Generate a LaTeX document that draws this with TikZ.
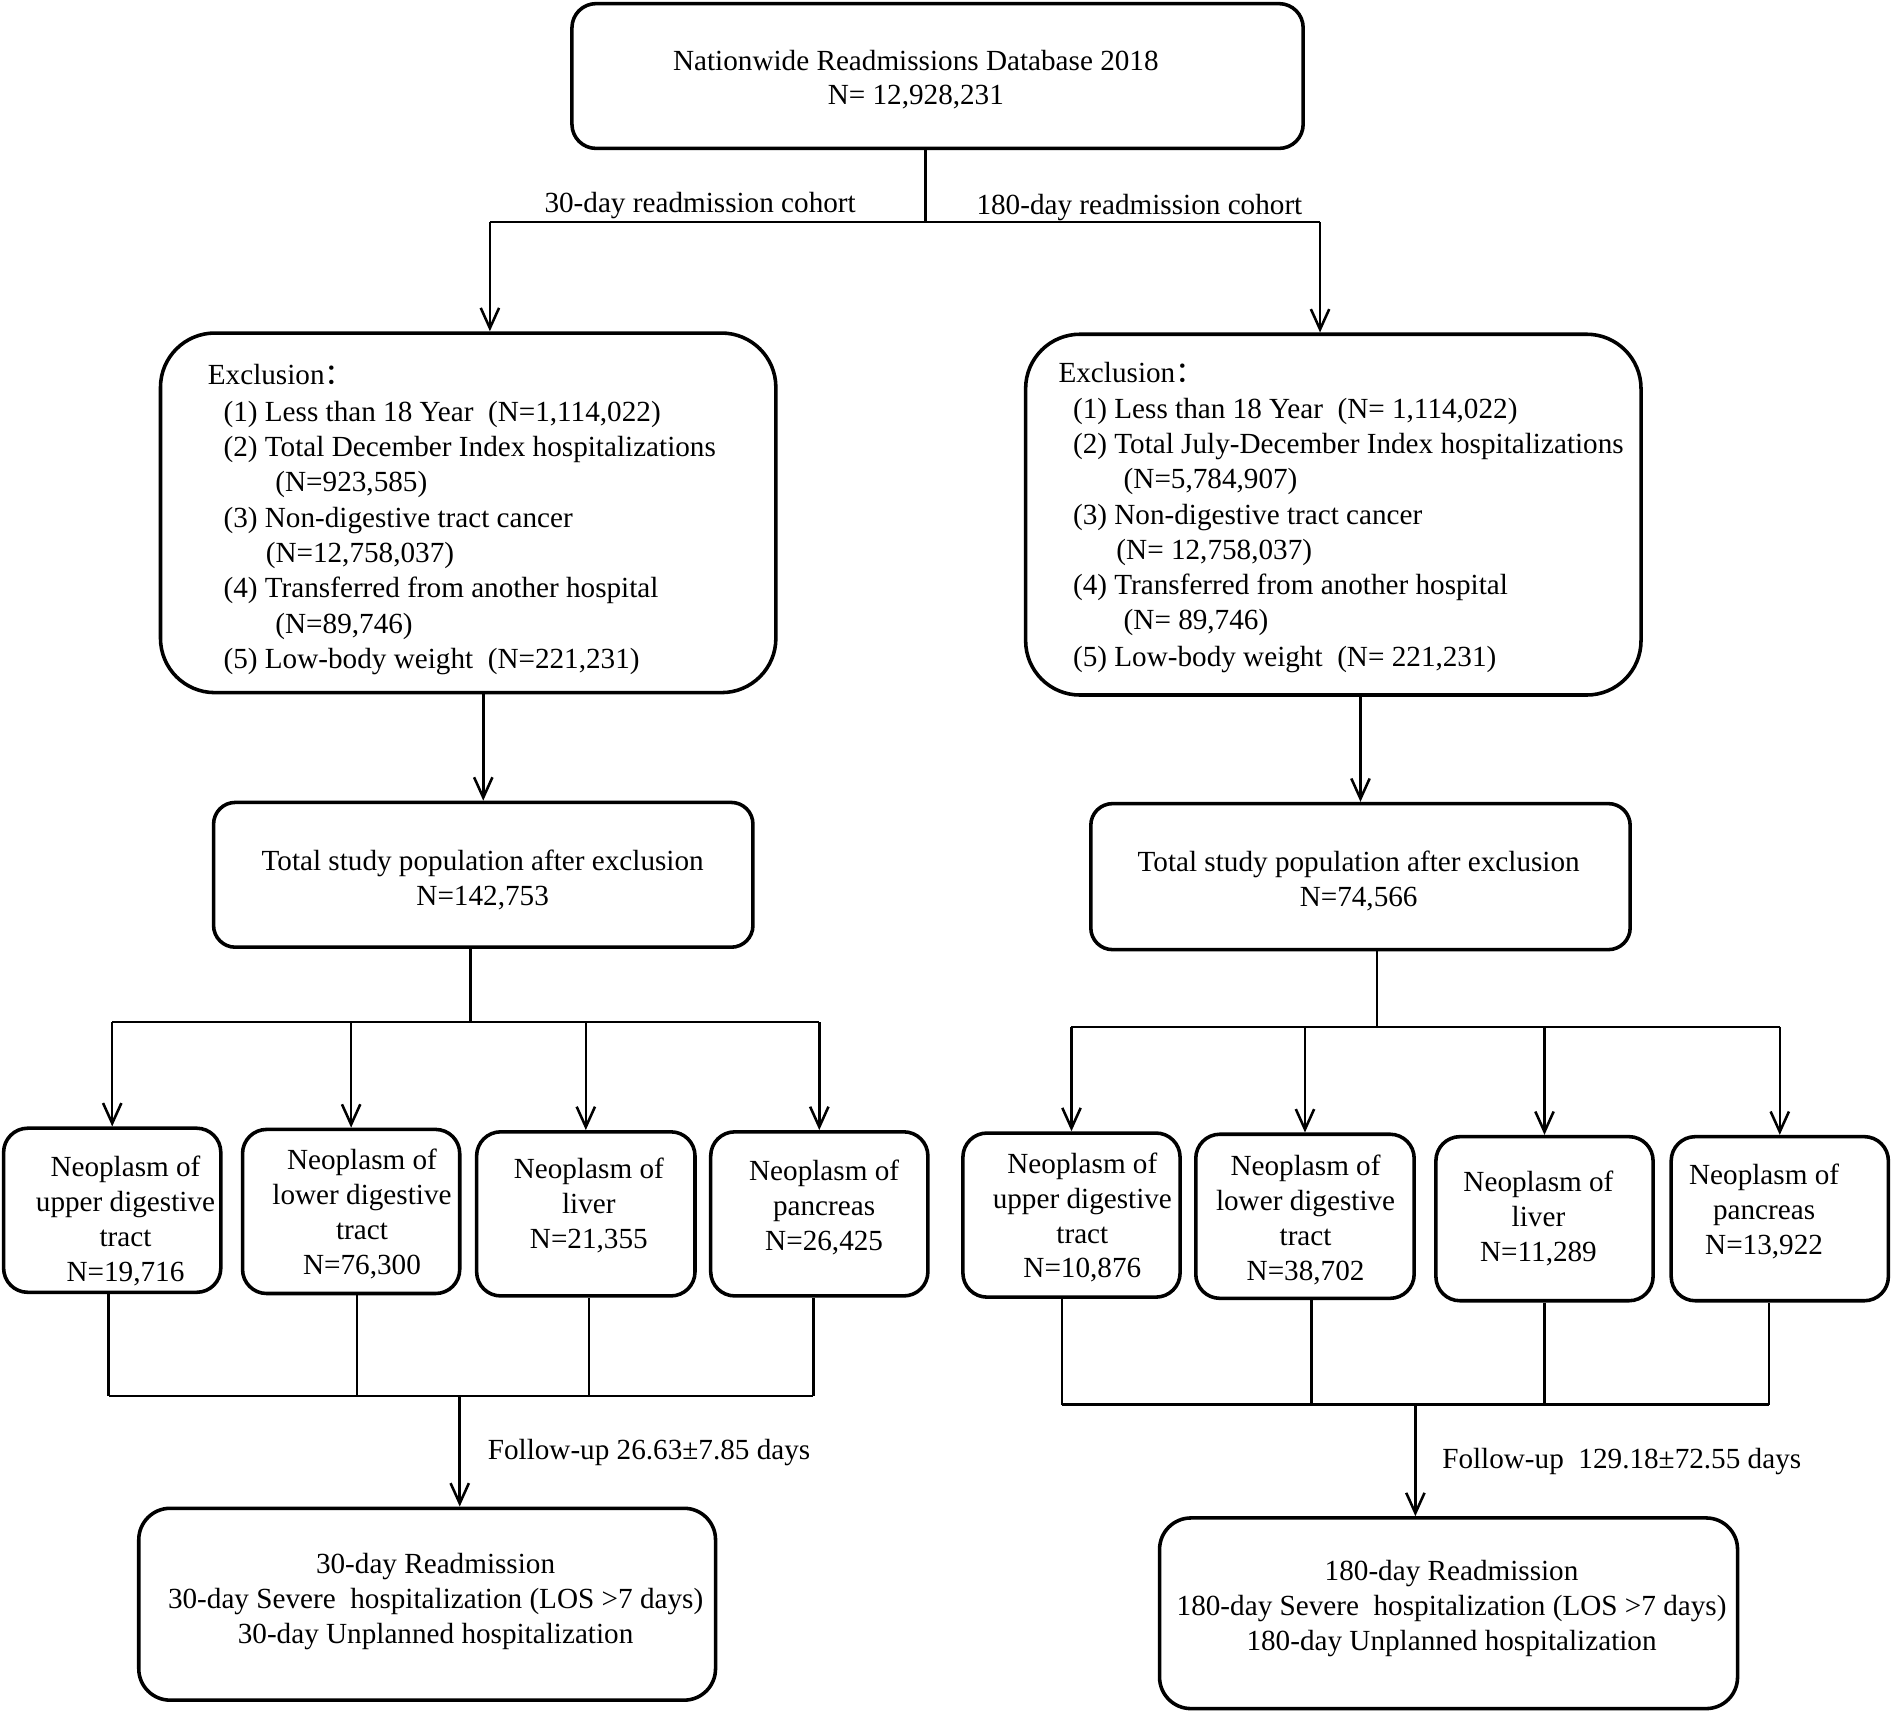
\documentclass[tikz,border=0pt]{standalone}
\usepackage{fontspec}
\setmainfont{Liberation Serif}
\newfontfamily\cjk{Noto Sans CJK SC}
\usetikzlibrary{arrows.meta,fit}
\begin{document}
\begin{tikzpicture}[x=0.025cm,y=-0.025cm,
  box/.style={draw, line width=2.1pt, rounded corners=#1, inner sep=0pt},
  box/.default=0.5cm,
  ln/.style={line width=1.5pt},
  arr/.style={line width=1.5pt, -{Straight Barb[length=0.42cm,width=0.38cm,line width=1.5pt]}},
  txt/.style={font=\fontsize{17.2pt}{20.6pt}\selectfont, inner sep=0pt, yshift=-0.05cm},
  ctr/.style={txt, align=center},
  lft/.style={txt, anchor=base west},
]
\useasboundingbox (0,0) rectangle (1568,1420);

% boxes
\node[box=0.5cm, fit={(474,3) (1080,123)}] (top) {};
\node[box=1.125cm, fit={(133,276) (643,574)}] (exL) {};
\node[box=1.125cm, fit={(850,277) (1360,576)}] (exR) {};
\node[box=0.45cm, fit={(177,665) (624,785)}] (totL) {};
\node[box=0.45cm, fit={(904,666) (1351,787)}] (totR) {};
\node[box, fit={(3,935) (183,1071)}] (nL1) {};
\node[box, fit={(201,936) (381,1072)}] (nL2) {};
\node[box, fit={(395,938) (576,1074)}] (nL3) {};
\node[box, fit={(589,938) (769,1074)}] (nL4) {};
\node[box, fit={(798,939) (978,1075)}] (nR1) {};
\node[box, fit={(991,940) (1172,1076)}] (nR2) {};
\node[box, fit={(1190,942) (1370,1078)}] (nR3) {};
\node[box, fit={(1385,942) (1565,1078)}] (nR4) {};
\node[box=0.65cm, fit={(115,1250) (593,1409)}] (botL) {};
\node[box=0.65cm, fit={(961,1258) (1440,1416)}] (botR) {};

% texts
\node[ctr] (topT) at (759,64) {Nationwide Readmissions Database 2018\\N= 12,928,231};
\node[txt, anchor=west] (coh30) at (451,168) {30-day readmission cohort};
\node[txt, anchor=west] (coh180) at (809,170) {180-day readmission cohort};

\node[lft] (eL0) at (172,317) {Exclusion{\cjk ：}};
\node[lft] (eL1) at (185,347) {(1) Less than 18 Year\ \ (N=1,114,022)};
\node[lft] (eL2) at (185,376) {(2) Total December Index hospitalizations};
\node[lft] (eL3) at (228,405) {(N=923,585)};
\node[lft] (eL4) at (185,435) {(3) Non-digestive tract cancer};
\node[lft] (eL5) at (220,464) {(N=12,758,037)};
\node[lft] (eL6) at (185,493) {(4) Transferred from another hospital};
\node[lft] (eL7) at (228,523) {(N=89,746)};
\node[lft] (eL8) at (185,552) {(5) Low-body weight\ \ (N=221,231)};

\node[lft] (eR0) at (877,315) {Exclusion{\cjk ：}};
\node[lft] (eR1) at (889,345) {(1) Less than 18 Year\ \ (N= 1,114,022)};
\node[lft] (eR2) at (889,374) {(2) Total July-December Index hospitalizations};
\node[lft] (eR3) at (931,403) {(N=5,784,907)};
\node[lft] (eR4) at (889,433) {(3) Non-digestive tract cancer};
\node[lft] (eR5) at (925,462) {(N= 12,758,037)};
\node[lft] (eR6) at (889,491) {(4) Transferred from another hospital};
\node[lft] (eR7) at (931,520) {(N= 89,746)};
\node[lft] (eR8) at (889,550) {(5) Low-body weight\ \ (N= 221,231)};

\node[ctr] (totLT) at (400,727) {Total study population after exclusion\\N=142,753};
\node[ctr] (totRT) at (1126,728) {Total study population after exclusion\\N=74,566};

\node[ctr] (nL1T) at (104,1010) {Neoplasm of\\upper digestive\\tract\\N=19,716};
\node[ctr] (nL2T) at (300,1004) {Neoplasm of\\lower digestive\\tract\\N=76,300};
\node[ctr] (nL3T) at (488,997) {Neoplasm of\\liver\\N=21,355};
\node[ctr] (nL4T) at (683,999) {Neoplasm of\\pancreas\\N=26,425};
\node[ctr] (nR1T) at (897,1007) {Neoplasm of\\upper digestive\\tract\\N=10,876};
\node[ctr] (nR2T) at (1082,1009) {Neoplasm of\\lower digestive\\tract\\N=38,702};
\node[ctr] (nR3T) at (1275,1008) {Neoplasm of\\liver\\N=11,289};
\node[ctr] (nR4T) at (1462,1002) {Neoplasm of\\pancreas\\N=13,922};

\node[txt, anchor=west] (fuL) at (404,1202) {Follow-up 26.63±7.85 days};
\node[txt, anchor=west] (fuR) at (1195,1209) {Follow-up\ \ 129.18±72.55 days};

\node[ctr] (botLT) at (361,1325) {30-day Readmission\\30-day Severe\ \ hospitalization (LOS >7 days)\\30-day Unplanned hospitalization};
\node[ctr] (botRT) at (1203,1331) {180-day Readmission\\180-day Severe\ \ hospitalization (LOS >7 days)\\180-day Unplanned hospitalization};

% connectors: top split
\coordinate (j0) at (767,184);
\coordinate (jL) at (406,184);
\coordinate (jR) at (1094,184);
\draw[ln] (j0 |- top.south) -- (j0);
\draw[ln] (jL) -- (jR);
\draw[arr] (jL) -- (jL |- exL.north);
\draw[arr] (jR) -- (jR |- exR.north);

% exclusion to totals
\draw[arr] (exL.south -| totL.north) -- (totL.north);
\draw[arr] (exR.south -| totR.north) -- (totR.north);

% left tree
\coordinate (tL) at (390,847);
\draw[ln] (tL |- totL.south) -- (tL);
\draw[ln] (tL -| nL1.north) -- (tL -| nL4.north);
\foreach \n in {nL1,nL2,nL3,nL4}{\draw[arr] (tL -| \n.north) -- (\n.north);}
\coordinate (bL1) at (90,1157);
\coordinate (bL2) at (296,1157);
\coordinate (bL3) at (488,1157);
\coordinate (bL4) at (674,1157);
\draw[ln] (bL1 |- nL1.south) -- (bL1);
\draw[ln] (bL2 |- nL2.south) -- (bL2);
\draw[ln] (bL3 |- nL3.south) -- (bL3);
\draw[ln] (bL4 |- nL4.south) -- (bL4);
\draw[ln] (bL1) -- (bL4);
\coordinate (fL) at (381,1157);
\draw[arr] (fL) -- (fL |- botL.north);

% right tree
\coordinate (tR) at (1141,851);
\draw[ln] (tR |- totR.south) -- (tR);
\draw[ln] (tR -| nR1.north) -- (tR -| nR4.north);
\foreach \n in {nR1,nR2,nR3,nR4}{\draw[arr] (tR -| \n.north) -- (\n.north);}
\coordinate (bR1) at (880,1164);
\coordinate (bR2) at (1087,1164);
\coordinate (bR3) at (1280,1164);
\coordinate (bR4) at (1466,1164);
\draw[ln] (bR1 |- nR1.south) -- (bR1);
\draw[ln] (bR2 |- nR2.south) -- (bR2);
\draw[ln] (bR3 |- nR3.south) -- (bR3);
\draw[ln] (bR4 |- nR4.south) -- (bR4);
\draw[ln] (bR1) -- (bR4);
\coordinate (fR) at (1173,1164);
\draw[arr] (fR) -- (fR |- botR.north);
\end{tikzpicture}
\end{document}
